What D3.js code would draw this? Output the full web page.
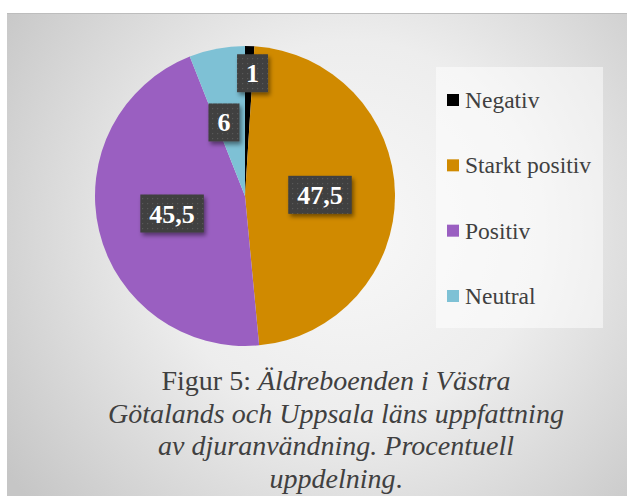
<!DOCTYPE html>
<html><head><meta charset="utf-8">
<script src="https://cdn.jsdelivr.net/npm/d3@7"></script>
</head><body style="margin:0">
<script>
const categories = ["Negativ", "Starkt positiv", "Positiv", "Neutral"];
const values = [1, 47.5, 45.5, 6];
const labels = ["1", "47,5", "45,5", "6"];
const colors = ["#000000", "#D08A00", "#9A5FC1", "#7EC1D5"];
const captionLines = [
  [{t:"Figur 5: ", it:false}, {t:"Äldreboenden i Västra", it:true}],
  [{t:"Götalands och Uppsala läns uppfattning", it:true}],
  [{t:"av djuranvändning. Procentuell", it:true}],
  [{t:"uppdelning", it:true}, {t:".", it:false}]
];
const SERIF = '"Liberation Serif", monospace';

const W = 627, H = 496;
const svg = d3.select("body").append("svg").attr("width", W).attr("height", H)
  .style("display","block").style("font-family", SERIF).attr("font-family", "Liberation Serif");
const defs = svg.append("defs");

const rg = defs.append("radialGradient").attr("id","bg")
  .attr("gradientUnits","userSpaceOnUse").attr("cx",350).attr("cy",230).attr("r",420);
rg.append("stop").attr("offset","0%").attr("stop-color","#f8f8f8");
rg.append("stop").attr("offset","45%").attr("stop-color","#ededed");
rg.append("stop").attr("offset","100%").attr("stop-color","#c6c6c6");

const pat = defs.append("pattern").attr("id","dots").attr("patternUnits","userSpaceOnUse")
  .attr("width",5).attr("height",5);
pat.append("rect").attr("width",5).attr("height",5).attr("fill","#3f3f3f");
pat.append("rect").attr("x",2).attr("y",2).attr("width",1.2).attr("height",1.2).attr("fill","#585858");

const sh = defs.append("filter").attr("id","sh").attr("x","-30%").attr("y","-30%").attr("width","170%").attr("height","170%");
sh.append("feDropShadow").attr("dx",2).attr("dy",3).attr("stdDeviation",2.2)
  .attr("flood-color","#000").attr("flood-opacity",0.45);

// background panel
svg.append("rect").attr("x",7).attr("y",13).attr("width",W-7).attr("height",H-13).attr("fill","url(#bg)");
svg.append("line").attr("x1",7).attr("x2",W).attr("y1",13.5).attr("y2",13.5).attr("stroke","#bdbdbd").attr("stroke-width",1);

// pie
const cx = 245, cy = 196, R = 150;
const pie = d3.pie().sort(null).value(d => d)(values);
const arc = d3.arc().innerRadius(0).outerRadius(R);
const g = svg.append("g").attr("transform", `translate(${cx},${cy})`);
g.selectAll("path.slice").data(pie).join("path").attr("class","slice")
  .attr("d", arc).attr("fill", (d,i) => colors[i]);

// data labels
const labelR = [0.82, 0.5, 0.5, 0.51];
const labelShift = [0.03, 0, 0, -0.09];
const lg = g.append("g");
pie.forEach((d,i) => {
  const mid = (d.startAngle + d.endAngle)/2 + labelShift[i];
  const r = R * labelR[i];
  const x = Math.sin(mid) * r, y = -Math.cos(mid) * r;
  const t = lg.append("text").attr("x", x).attr("y", y + 9)
    .attr("text-anchor","middle").style("font-family", SERIF)
    .attr("font-weight","bold").attr("font-size",26).attr("fill","#fff")
    .text(labels[i]);
  const bb = t.node().getBBox();
  const bw = bb.width + 18, bh = 38;
  lg.insert("rect", () => t.node())
    .attr("x", x - bw/2).attr("y", y - bh/2).attr("width", bw).attr("height", bh)
    .attr("fill","url(#dots)").attr("filter","url(#sh)");
});

// legend
const legX = 436, legY = 67, legW = 167, legH = 261;
svg.append("rect").attr("x",legX).attr("y",legY).attr("width",legW).attr("height",legH)
  .attr("fill","#ffffff").attr("fill-opacity",0.5);
const ly = d3.scalePoint().domain(categories).range([100, 296]);
const leg = svg.append("g");
categories.forEach((c,i) => {
  leg.append("rect").attr("x",447).attr("y",ly(c)-6).attr("width",12).attr("height",12).attr("fill",colors[i]);
  leg.append("text").attr("x",465).attr("y",ly(c)+8)
    .style("font-family", SERIF).attr("font-size",23.5).attr("fill","#404040").text(c);
});

// caption
const cap = svg.append("g");
captionLines.forEach((line, i) => {
  const t = cap.append("text").attr("x",336).attr("y",390 + i*32.5)
    .attr("text-anchor","middle").style("font-family", SERIF).attr("font-size",28).attr("fill","#404040");
  line.forEach(seg => t.append("tspan").attr("font-style", seg.it ? "italic" : "normal").text(seg.t));
});
</script>
</body></html>
